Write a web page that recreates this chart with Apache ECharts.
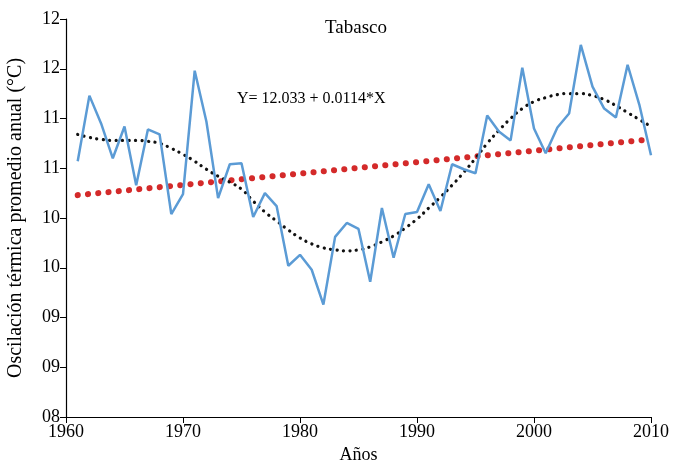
<!DOCTYPE html>
<html><head><meta charset="utf-8">
<script src="https://cdn.jsdelivr.net/npm/echarts@6/dist/echarts.min.js"></script>
<style>html,body{margin:0;padding:0;background:#fff}#c{width:673px;height:461px}</style>
</head><body><div id="c"></div>
<script>
var years = [1961,1962,1963,1964,1965,1966,1967,1968,1969,1970,1971,1972,1973,1974,1975,1976,1977,1978,1979,1980,1981,1982,1983,1984,1985,1986,1987,1988,1989,1990,1991,1992,1993,1994,1995,1996,1997,1998,1999,2000,2001,2002,2003,2004,2005,2006,2007,2008,2009,2010];
var observed = [10.57,11.23,10.95,10.60,10.92,10.33,10.89,10.84,10.04,10.24,11.48,10.97,10.20,10.54,10.55,10.01,10.25,10.12,9.52,9.63,9.48,9.13,9.81,9.95,9.89,9.36,10.10,9.60,10.04,10.06,10.34,10.07,10.54,10.49,10.45,11.03,10.87,10.78,11.51,10.90,10.65,10.91,11.05,11.74,11.32,11.10,11.01,11.54,11.14,10.63];
var polyTrend = [10.84,10.81,10.79,10.78,10.78,10.78,10.77,10.75,10.70,10.64,10.57,10.49,10.42,10.36,10.29,10.17,10.06,9.97,9.88,9.80,9.74,9.70,9.68,9.67,9.68,9.71,9.76,9.82,9.90,9.99,10.10,10.21,10.33,10.46,10.60,10.75,10.88,11.00,11.10,11.17,11.21,11.24,11.25,11.25,11.23,11.19,11.13,11.06,10.99,10.92];
var linStart = [1961, 10.23];
var linEnd = [2010, 10.79];
var yTicks = {min: 8, max: 12, step: 0.5};
var xTicks = {min: 1960, max: 2010, step: 10};
var titleText = 'Tabasco';
var equationText = 'Y= 12.033 + 0.0114*X';
var yName = 'Oscilación térmica promedio anual (°C)';
var xName = 'Años';

var font = 'Liberation Serif';
var chart = echarts.init(document.getElementById('c'));
function pairs(xs, ys){ return xs.map(function(x,i){ return [x, ys[i]]; }); }
chart.setOption({
  animation: false,
  grid: {left: 66, right: 22, top: 19, bottom: 44, containLabel: false, outerBoundsMode: 'none'},
  xAxis: {
    type: 'value', min: xTicks.min, max: xTicks.max, interval: xTicks.step,
    name: xName, nameLocation: 'middle', nameGap: 26,
    nameTextStyle: {fontFamily: font, fontSize: 18, color: '#000'},
    axisLine: {lineStyle: {color: '#000', width: 1.2}},
    axisTick: {show: true, length: 6, lineStyle: {color: '#000'}},
    axisLabel: {fontFamily: font, fontSize: 18, color: '#000', margin: 6,
      formatter: function(v){ return String(v); }},
    splitLine: {show: false}
  },
  yAxis: {
    type: 'value', min: yTicks.min, max: yTicks.max, interval: yTicks.step,
    name: yName, nameLocation: 'middle', nameGap: 40,
    nameTextStyle: {fontFamily: font, fontSize: 20, color: '#000'},
    axisLine: {show: true, lineStyle: {color: '#000', width: 1.2}},
    axisTick: {show: true, length: 6, lineStyle: {color: '#000'}},
    axisLabel: {fontFamily: font, fontSize: 18, color: '#000', margin: 6,
      formatter: function(v){ var r = Math.round(v); return (r < 10 ? '0' : '') + r; }},
    splitLine: {show: false}
  },
  graphic: [
    {type: 'text', left: 325, top: 19, style: {text: titleText, font: '19px "Liberation Serif"', fill: '#000'}},
    {type: 'text', left: 237, top: 91, style: {text: equationText, font: '16px "Liberation Serif"', fill: '#000'}}
  ],
  series: [
    {type: 'line', data: [linStart, linEnd], showSymbol: false, symbol: 'none', z: 2,
     lineStyle: {color: '#d42a2a', width: 6, type: [0.1, 10.2], cap: 'round'}},
    {type: 'line', data: pairs(years, polyTrend), showSymbol: false, symbol: 'none', smooth: true, z: 3,
     lineStyle: {color: '#111', width: 3.2, type: [0.1, 6.4], cap: 'round'}},
    {type: 'line', data: pairs(years, observed), showSymbol: false, symbol: 'none', z: 4,
     lineStyle: {color: '#5b9bd5', width: 2.5}}
  ]
});
</script></body></html>
